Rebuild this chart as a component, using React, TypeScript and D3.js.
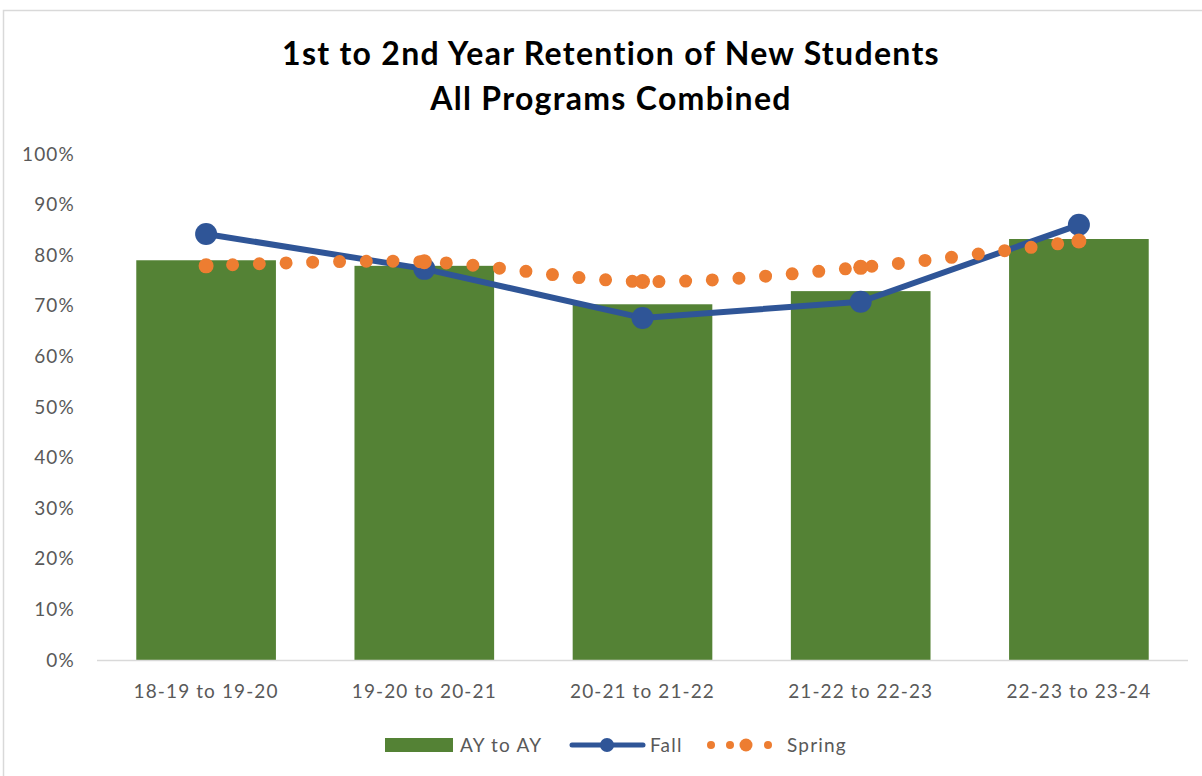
import * as d3 from "d3";

const categories = ["18-19 to 19-20", "19-20 to 20-21", "20-21 to 21-22", "21-22 to 22-23", "22-23 to 23-24"];
const ayToAy = [79.0, 77.9, 70.3, 72.9, 83.2];
const fall = [84.2, 77.3, 67.6, 70.8, 86.0];
const spring = [77.9, 78.7, 74.8, 77.6, 82.8];
const yTicks = [0, 10, 20, 30, 40, 50, 60, 70, 80, 90, 100];

const W = 1202;
const H = 776;
const FONT = "Lato, 'Open Sans', sans-serif";
const GREEN = "#548235";
const BLUE = "#2F5597";
const ORANGE = "#ED7D31";
const GREY = "#595959";

export default function App() {
  const x = d3.scaleBand<string>().domain(categories).range([97, 1188]).paddingInner(0.36).paddingOuter(0.18);
  const y = d3.scaleLinear().domain([0, 100]).range([660, 154]);
  const cx = (c: string) => (x(c) ?? 0) + x.bandwidth() / 2;

  const lineFall = d3.line<number>().x((_, i) => cx(categories[i])).y((d) => y(d));
  const lineSpring = d3
    .line<number>()
    .x((_, i) => cx(categories[i]))
    .y((d) => y(d))
    .curve(d3.curveCatmullRom.alpha(0.5));

  return (
    <svg width={W} height={H} style={{ position: "absolute", left: 0, top: 0, background: "#fff" }}>
      <rect x={3.5} y={10.5} width={W + 20} height={H + 20} fill="#fff" stroke="#d9d9d9" strokeWidth={1.5} />
      <g fontFamily={FONT} fontWeight={700} fontSize={32} letterSpacing={1.3} textAnchor="middle" fill="#000">
        <text x={611} y={65}>1st to 2nd Year Retention of New Students</text>
        <text x={611} y={110}>All Programs Combined</text>
      </g>

      <g fontFamily={FONT} fontSize={19} letterSpacing={1.2} fill={GREY} textAnchor="end">
        {yTicks.map((t) => (
          <text key={t} x={75} y={y(t)} dy="0.35em">{`${t}%`}</text>
        ))}
      </g>

      <g fill={GREEN}>
        {categories.map((c, i) => (
          <rect key={c} x={x(c)} y={y(ayToAy[i])} width={x.bandwidth()} height={y(0) - y(ayToAy[i])} />
        ))}
      </g>

      <line x1={97} x2={1188} y1={660.5} y2={660.5} stroke="#d9d9d9" strokeWidth={1.5} />

      <g fontFamily={FONT} fontSize={19} letterSpacing={1.1} fill={GREY} textAnchor="middle">
        {categories.map((c) => (
          <text key={c} x={cx(c)} y={698}>{c}</text>
        ))}
      </g>

      <path d={lineFall(fall) ?? ""} fill="none" stroke={BLUE} strokeWidth={6} strokeLinejoin="round" />
      {fall.map((v, i) => (
        <circle key={i} cx={cx(categories[i])} cy={y(v)} r={11} fill={BLUE} />
      ))}

      <path
        d={lineSpring(spring) ?? ""}
        fill="none"
        stroke={ORANGE}
        strokeWidth={13}
        strokeLinecap="round"
        strokeDasharray="0 26.7"
      />
      {spring.map((v, i) => (
        <circle key={i} cx={cx(categories[i])} cy={y(v)} r={7.5} fill={ORANGE} />
      ))}

      <g fontFamily={FONT} fontSize={19} letterSpacing={1.2} fill={GREY}>
        <rect x={385} y={738} width={68} height={14} fill={GREEN} />
        <text x={460} y={752}>AY to AY</text>
        <line x1={572} x2={643} y1={745} y2={745} stroke={BLUE} strokeWidth={5} strokeLinecap="round" />
        <circle cx={607} cy={745} r={7} fill={BLUE} />
        <text x={650} y={752}>Fall</text>
        {[711, 730, 768].map((px) => (
          <circle key={px} cx={px} cy={745} r={4} fill={ORANGE} />
        ))}
        <circle cx={746} cy={745} r={6.5} fill={ORANGE} />
        <text x={787} y={752}>Spring</text>
      </g>
    </svg>
  );
}
